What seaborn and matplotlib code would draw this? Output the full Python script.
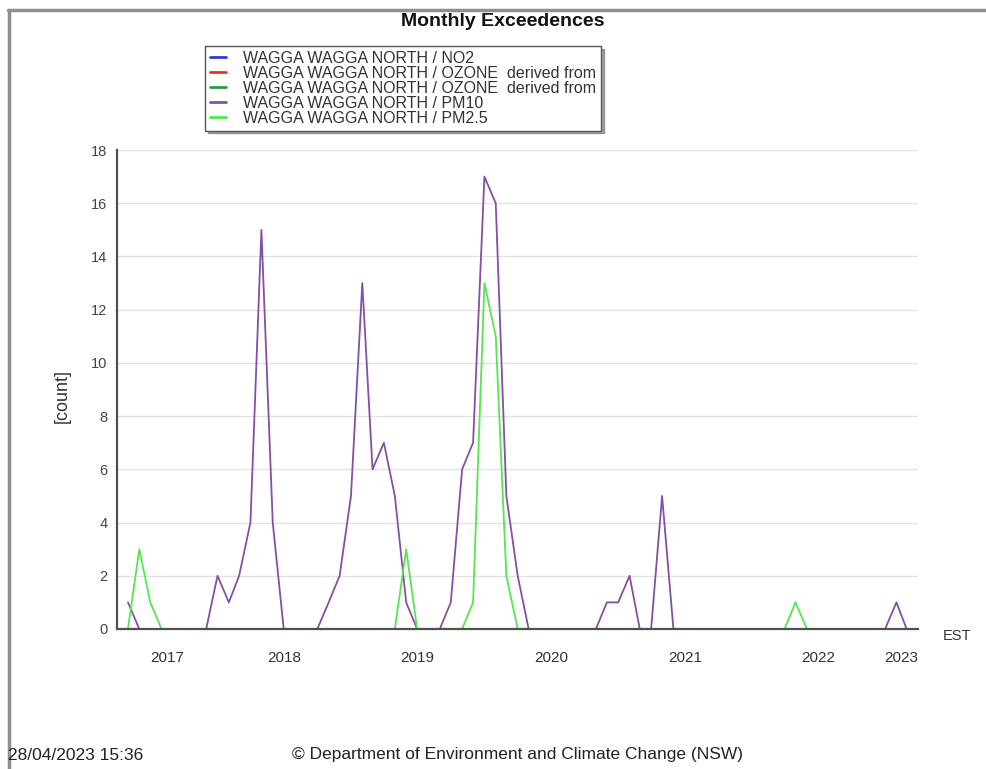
import pandas as pd
import matplotlib
matplotlib.use('Agg')
import matplotlib.pyplot as plt
import matplotlib.dates as mdates
from matplotlib.lines import Line2D
import seaborn as sns

sns.set_style('white')
plt.rcParams['font.family'] = ['Liberation Sans', 'DejaVu Sans']

# monthly exceedence counts, May 2017 .. Mar 2023 ------------------------
months = pd.date_range('2017-05-01', '2023-03-01', freq='MS')

pm10 = [1, 0, 0, 0, 0, 0, 0, 0,                  # 2017 May-Dec
        2, 1, 2, 4, 15, 4, 0, 0, 0, 0, 1, 2,     # 2018
        5, 13, 6, 7, 5, 1, 0, 0, 0, 1, 6, 7,     # 2019
        17, 16, 5, 2, 0, 0, 0, 0, 0, 0, 0, 1,    # 2020
        1, 2, 0, 0, 5, 0, 0, 0, 0, 0, 0, 0,      # 2021
        0, 0, 0, 0, 0, 0, 0, 0, 0, 0, 0, 0,      # 2022
        0, 1, 0]                                 # 2023 Jan-Mar

pm25 = [0, 3, 1, 0, 0, 0, 0, 0,
        0, 0, 0, 0, 0, 0, 0, 0, 0, 0, 0, 0,
        0, 0, 0, 0, 0, 3, 0, 0, 0, 0, 0, 1,
        13, 11, 2, 0, 0, 0, 0, 0, 0, 0, 0, 0,
        0, 0, 0, 0, 0, 0, 0, 0, 0, 0, 0, 0,
        0, 0, 0, 0, 1, 0, 0, 0, 0, 0, 0, 0,
        0, 0, 0]

series_names = ['WAGGA WAGGA NORTH / NO2',
                'WAGGA WAGGA NORTH / OZONE  derived from',
                'WAGGA WAGGA NORTH / OZONE  derived from',
                'WAGGA WAGGA NORTH / PM10',
                'WAGGA WAGGA NORTH / PM2.5']
series_colors = ['#2b3fd6', '#e8322e', '#2f9a45', '#8350a3', '#55e650']

years = ['2017', '2018', '2019', '2020', '2021', '2022', '2023']
y_ticks = [0, 2, 4, 6, 8, 10, 12, 14, 16, 18]

df = pd.DataFrame({'month': list(months) * 2,
                   'count': pm10 + pm25,
                   'site': [series_names[3]] * len(months) + [series_names[4]] * len(months)})

# figure -----------------------------------------------------------------
fig = plt.figure(figsize=(9.87, 7.69), dpi=100)
ax = fig.add_axes([117 / 987, 1 - 629 / 769, 801 / 987, 479 / 769])

sns.lineplot(data=df, x='month', y='count', hue='site',
             hue_order=series_names[3:], palette=series_colors[3:],
             linewidth=1.3, legend=False, ax=ax)

x0, x1 = pd.Timestamp('2017-04-01'), pd.Timestamp('2023-04-01')
ax.set_xlim(x0, x1)
ax.set_ylim(0, 18)

# axes look
for s in ['top', 'right']:
    ax.spines[s].set_visible(False)
for s in ['left', 'bottom']:
    ax.spines[s].set_color('#505050')
    ax.spines[s].set_linewidth(1.6)
    ax.spines[s].set_zorder(3)

ax.set_yticks(y_ticks)
ax.set_yticks(range(1, 18, 2), minor=True)
ax.set_yticklabels([str(v) for v in y_ticks], color='#444444', fontsize=10.5)
ax.tick_params(axis='y', which='major', direction='out', length=5, width=1, color='#505050', pad=2)
ax.tick_params(axis='y', which='minor', direction='out', length=3, width=1, color='#505050')
ax.yaxis.grid(True, which='major', color='#e2e2e2', linewidth=1)
ax.xaxis.grid(False)

bounds = [x0] + [pd.Timestamp(f'{y}-01-01') for y in range(2018, 2024)] + [x1]
bnum = mdates.date2num(bounds)
ax.set_xticks(bnum[1:])
ax.set_xticklabels([''] * len(bnum[1:]))
ax.tick_params(axis='x', which='major', direction='in', length=5, width=1.2, color='#505050')
mids = [(a + b) / 2 for a, b in zip(bnum[:-1], bnum[1:])]
ax.set_xticks(mids, minor=True)
ax.set_xticklabels(years, minor=True, fontsize=11, color='#333333')
ax.tick_params(axis='x', which='minor', length=0, pad=16)
ax.set_xlabel('')
ax.set_ylabel('')

# legend
handles = [Line2D([], [], color=c, lw=2) for c in series_colors]
fig.legend(handles, series_names, loc='upper left',
           bbox_to_anchor=(205 / 987, 1 - 46 / 769), bbox_transform=fig.transFigure,
           borderaxespad=0, frameon=True, fancybox=False, shadow=True, edgecolor='#555555',
           fontsize=11.5, handlelength=1.0, handletextpad=1.1,
           labelspacing=0.0, borderpad=0.3, labelcolor='#333333')

# texts
fig.text(503 / 987, 1 - 22 / 769, 'Monthly Exceedences', ha='center', va='center',
         fontsize=14, fontweight='bold', color='#111111')
fig.text(62 / 987, 1 - 396 / 769, '[count]', rotation=90, ha='center', va='center',
         fontsize=13, color='#333333')
fig.text(957 / 987, 1 - 636 / 769, 'EST', ha='center', va='center', fontsize=10.5, color='#333333')
fig.text(8 / 987, 1 - 755 / 769, '28/04/2023 15:36', ha='left', va='center',
         fontsize=12.5, color='#222222')
fig.text(517 / 987, 1 - 755 / 769, '\u00a9 Department of Environment and Climate Change (NSW)',
         ha='center', va='center', fontsize=12.5, color='#222222')

# outer frame (top and left edges only)
fig.add_artist(Line2D([8 / 987, 1], [1 - 10 / 769] * 2, transform=fig.transFigure,
                      color='#8f8f8f', lw=2.5))
fig.add_artist(Line2D([9 / 987] * 2, [0, 1 - 10 / 769], transform=fig.transFigure,
                      color='#8f8f8f', lw=2.5))

fig.savefig('out.png', dpi=100)
